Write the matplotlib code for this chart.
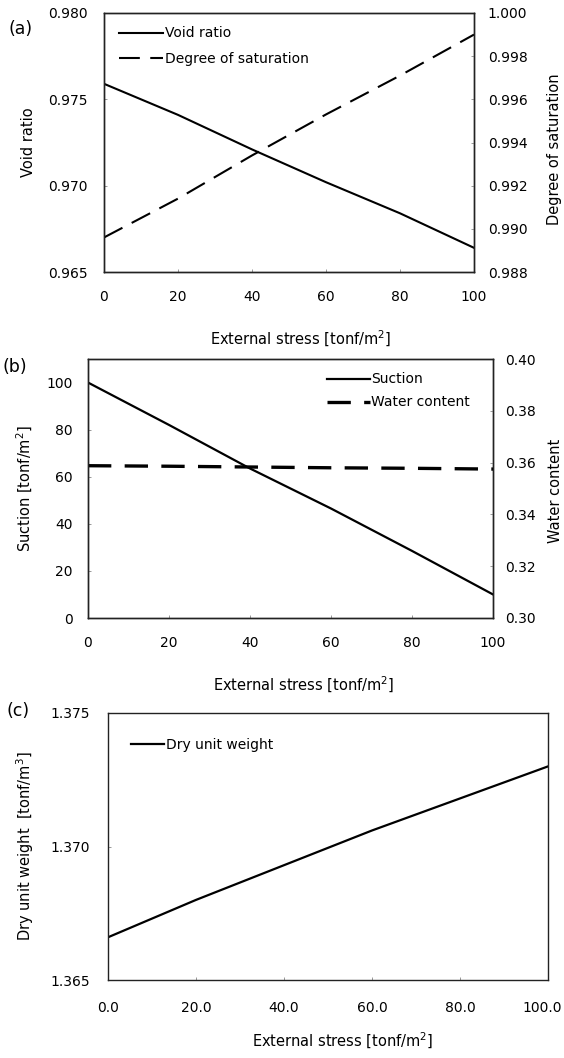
import matplotlib
matplotlib.use("Agg")
import matplotlib.pyplot as plt
from matplotlib.ticker import FormatStrFormatter, MultipleLocator, FuncFormatter

plt.rcParams['font.family'] = ['DejaVu Sans']

# ---- data ----
stress = [0, 20, 40, 60, 80, 100]
void_ratio = [0.9759, 0.9741, 0.9721, 0.9702, 0.9684, 0.9664]
saturation = [0.9896, 0.9914, 0.9934, 0.9953, 0.9971, 0.9990]
suction = [100.0, 82.0, 63.5, 46.5, 28.5, 10.0]
water_content = [0.3588, 0.3586, 0.3583, 0.3580, 0.3578, 0.3575]
dry_unit_weight = [1.3666, 1.3680, 1.3693, 1.3706, 1.3718, 1.3730]

xlabel_text = "External stress [tonf/m$^2$]"

W, H = 564, 1058
fig = plt.figure(figsize=(W / 100, H / 100), dpi=100)


def ax_rect(l, r, t, b):
    return [l / W, 1 - b / H, (r - l) / W, (b - t) / H]


TICK = 10
LAB = 10.5
LEG = 10


def style(ax):
    for s in ax.spines.values():
        s.set_linewidth(1.0)
        s.set_color('#222222')
    ax.tick_params(direction='in', length=2, width=0.6, color='#888888',
                   labelsize=TICK)


# ---------- (a) ----------
axa = fig.add_axes(ax_rect(104, 474, 13, 272))
axa2 = axa.twinx()
style(axa)
style(axa2)
la1, = axa.plot(stress, void_ratio, color='black', lw=1.5, label='Void ratio')
la2, = axa2.plot(stress, saturation, color='black', lw=1.5,
                 dashes=(10, 5), label='Degree of saturation')
axa.set_xlim(0, 100)
axa.set_ylim(0.965, 0.980)
axa2.set_ylim(0.988, 1.000)
axa.xaxis.set_major_locator(MultipleLocator(20))
axa.yaxis.set_major_locator(MultipleLocator(0.005))
axa2.yaxis.set_major_locator(MultipleLocator(0.002))
axa.yaxis.set_major_formatter(FormatStrFormatter('%.3f'))
axa2.yaxis.set_major_formatter(FormatStrFormatter('%.3f'))
axa.tick_params(axis='x', pad=13)
axa.tick_params(axis='y', pad=12)
axa2.tick_params(axis='y', pad=10)
axa.set_xlabel(xlabel_text, fontsize=LAB)
axa.xaxis.set_label_coords(0.532, -0.220)
axa.set_ylabel("Void ratio", fontsize=LAB)
axa.yaxis.set_label_coords(-0.185, 0.5)
axa2.set_ylabel("Degree of saturation", fontsize=LAB)
axa2.yaxis.set_label_coords(1.196, 0.475)
axa.legend(handles=[la1, la2], loc='upper left', bbox_to_anchor=(0.04, 0.948),
           frameon=False, fontsize=LEG, handlelength=3.2, handletextpad=0.1,
           borderpad=0, borderaxespad=0, labelspacing=0.8)

# ---------- (b) ----------
axb = fig.add_axes(ax_rect(88, 493, 359, 618))
axb2 = axb.twinx()
style(axb)
style(axb2)
lb1, = axb.plot(stress, suction, color='black', lw=1.6, label='Suction')
lb2, = axb2.plot(stress, water_content, color='black', lw=2.4,
                 dashes=(7, 4), label='Water content')
axb.set_xlim(0, 100)
axb.set_ylim(0, 110)
axb2.set_ylim(0.30, 0.40)
axb.xaxis.set_major_locator(MultipleLocator(20))
axb.yaxis.set_major_locator(MultipleLocator(20))
axb2.yaxis.set_major_locator(MultipleLocator(0.02))
axb2.yaxis.set_major_formatter(FormatStrFormatter('%.2f'))
axb.tick_params(axis='x', pad=13)
axb.tick_params(axis='y', pad=11)
axb2.tick_params(axis='y', pad=9)
axb.set_xlabel(xlabel_text, fontsize=LAB)
axb.xaxis.set_label_coords(0.533, -0.220)
axb.set_ylabel("Suction [tonf/m$^2$]", fontsize=LAB)
axb.yaxis.set_label_coords(-0.132, 0.5)
axb2.set_ylabel("Water content", fontsize=LAB)
axb2.yaxis.set_label_coords(1.137, 0.49)
axb.legend(handles=[lb1, lb2], loc='upper left', bbox_to_anchor=(0.59, 0.948),
           frameon=False, fontsize=LEG, handlelength=3.1, handletextpad=0.1,
           borderpad=0, borderaxespad=0, labelspacing=0.65)

# ---------- (c) ----------
axc = fig.add_axes(ax_rect(108, 548, 713, 980))
style(axc)
lc1, = axc.plot(stress, dry_unit_weight, color='black', lw=1.6,
                label='Dry unit weight')
x_max = 100
axc.set_xlim(0, x_max)
axc.set_ylim(1.365, 1.375)
axc.xaxis.set_major_locator(MultipleLocator(20))
axc.yaxis.set_major_locator(MultipleLocator(0.005))
# last label drawn separately (nudged so it stays inside the figure)
axc.xaxis.set_major_formatter(
    FuncFormatter(lambda v, p: '' if abs(v - x_max) < 1e-9 else f'{v:.1f}'))
axc.yaxis.set_major_formatter(FormatStrFormatter('%.3f'))
axc.tick_params(axis='x', pad=15)
axc.tick_params(axis='y', pad=13)
axc.annotate(f'{x_max:.1f}', xy=(x_max, 0), xycoords=('data', 'axes fraction'),
             xytext=(-4, -15), textcoords='offset points',
             ha='center', va='top', fontsize=TICK)
axc.set_xlabel(xlabel_text, fontsize=LAB)
axc.xaxis.set_label_coords(0.534, -0.191)
axc.set_ylabel("Dry unit weight  [tonf/m$^3$]", fontsize=LAB)
axc.yaxis.set_label_coords(-0.1625, 0.5)
axc.legend(handles=[lc1], loc='upper left', bbox_to_anchor=(0.052, 0.908),
           frameon=False, fontsize=LEG, handlelength=2.4, handletextpad=0.15,
           borderpad=0, borderaxespad=0)

# panel letters
fig.text(21 / W, 1 - 29 / H, "(a)", fontsize=12.5, ha='center', va='center')
fig.text(15 / W, 1 - 367 / H, "(b)", fontsize=12.5, ha='center', va='center')
fig.text(18 / W, 1 - 711 / H, "(c)", fontsize=12.5, ha='center', va='center')

fig.savefig("out.png", dpi=100)
